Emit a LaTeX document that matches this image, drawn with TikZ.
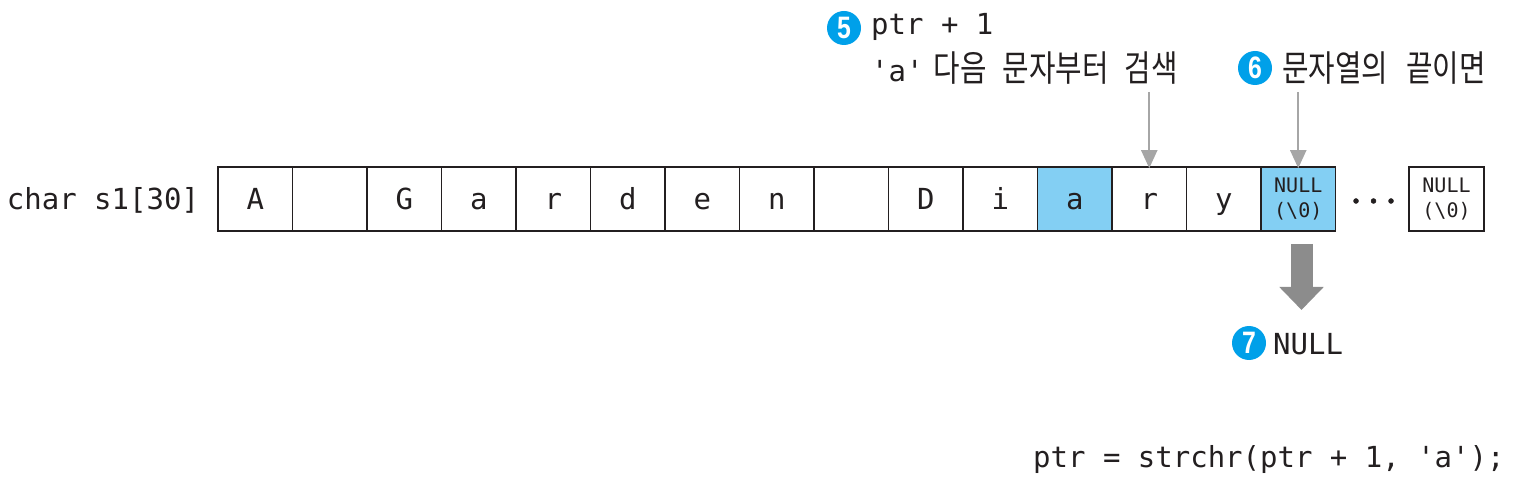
\documentclass[tikz,border=0pt]{standalone}
\usepackage{fontspec}
\setmonofont{DejaVu Sans Mono}
\newfontfamily\krfont{Noto Sans CJK KR}[FakeStretch=0.8]
\newfontfamily\numfont{Liberation Sans}[FakeStretch=0.8]
\usetikzlibrary{arrows.meta,positioning}
\definecolor{cellblue}{HTML}{83CFF3}
\definecolor{stepblue}{HTML}{00A0E9}
\definecolor{inkblack}{HTML}{231F20}
\definecolor{ptrgray}{HTML}{A6A6A6}
\definecolor{resgray}{HTML}{8C8C8C}
\newcommand{\monobig}{\ttfamily\fontsize{29}{34}\selectfont}
\newcommand{\monosmall}{\ttfamily\fontsize{20}{25}\selectfont}
\newcommand{\krtext}{\krfont\fontsize{36}{42}\selectfont}
\tikzset{
  cellbox/.style={draw=inkblack,line width=1.6pt,minimum width=74.5pt,minimum height=64pt,
    inner sep=0pt,text height=21pt,text depth=0pt,text=inkblack,font=\monobig},
  nullbox/.style={draw=inkblack,line width=1.6pt,minimum width=74.5pt,minimum height=64pt,
    inner sep=0pt,align=center,text=inkblack,font=\monosmall},
  codetext/.style={inner sep=0pt,text=inkblack,font=\monobig},
  krlabel/.style={inner sep=0pt,text=inkblack,font=\krtext},
  numcirc/.style={circle,fill=stepblue,text=white,inner sep=0pt,minimum size=34pt,
    font=\numfont\bfseries\fontsize{31}{32}\selectfont},
  ptrarrow/.style={ptrgray,line width=2pt,-{Triangle[width=16pt,length=18pt]}},
  resarrow/.style={resgray,line width=22pt,-{Triangle[width=43pt 0,length=23pt 0 0]}}
}

\begin{document}
\begin{tikzpicture}[x=1pt,y=-1pt]
\useasboundingbox (0,0) rectangle (1537,478);

% array cells
\foreach \ch [count=\i] in {A,{},G,a,r,d,e,n,{},D,i,a,r,y}{
  \ifnum\i=12 \def\cellfill{cellblue}\else\def\cellfill{white}\fi
  \node[cellbox,fill=\cellfill] (c\i) at ({218+74.5*(\i-0.5)},199) {\ch};
}
\node[nullbox,fill=cellblue] (c15) at ({218+74.5*14.5},199) {NULL\\(\textbackslash 0)};
\node[nullbox,fill=white] (cend) at (1446.5,199) {NULL\\(\textbackslash 0)};
\foreach \x in {1356,1373.5,1391}
  \filldraw[inkblack] (\x,201) circle (2.5pt);
\node[codetext,text height=21pt,text depth=0pt,left=18pt of c1] (s1) {char s1[30]};

% step 5
\node[numcirc] (n5) at (844,28) {5};
\node[codetext,anchor=base west] (t5) at (871,35) {ptr + 1};
\node[krlabel,anchor=base west] (k5) at (871,82)
  {{\monobig 'a'}\hspace{10pt}다음\hspace{16pt}문자부터\hspace{16pt}검색};
\coordinate (a5) at (1149.25,92);
\draw[ptrarrow] (a5) -- ([yshift=-2pt]c13.north);

% step 6
\node[numcirc] (n6) at (1255,68) {6};
\node[krlabel,anchor=base west] (k6) at (1282,82) {문자열의\hspace{18pt}끝이면};
\coordinate (a6) at (1298.25,92);
\draw[ptrarrow] (a6) -- ([yshift=-2pt]c15.north);

% step 7
\coordinate (b7) at (1301.5,244);
\coordinate (e7) at (1301.5,310);
\draw[resarrow] (b7) -- (e7);
\node[numcirc] (n7) at (1249,343) {7};
\node[codetext,anchor=base west] (t7) at (1273,354) {NULL};

% call
\node[codetext,anchor=base west] (call) at (1033,467) {ptr = strchr(ptr + 1, 'a');};
\end{tikzpicture}
\end{document}
